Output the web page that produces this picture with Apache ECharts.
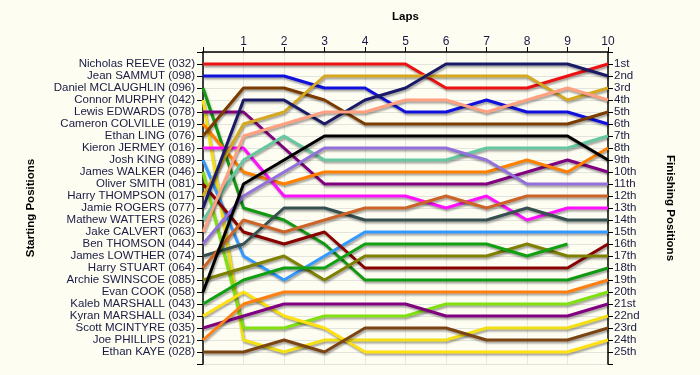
<!DOCTYPE html>
<html><head><meta charset="utf-8">
<script src="https://cdn.jsdelivr.net/npm/echarts@6/dist/echarts.min.js"></script>
<style>html,body{margin:0;padding:0;background:#fdfdf2;}#c{width:700px;height:375px;}</style>
</head><body><div id="c"></div>
<script>
// Laps (0 = starting grid)
const laps = [0,1,2,3,4,5,6,7,8,9,10];
const lapTickLabels = ['', '1','2','3','4','5','6','7','8','9','10'];
// Starting order (left axis labels)
const startNames = [
 'Nicholas REEVE (032)','Jean SAMMUT (098)','Daniel MCLAUGHLIN (096)','Connor MURPHY (042)',
 'Lewis EDWARDS (078)','Cameron COLVILLE (019)','Ethan LING (076)','Kieron JERMEY (016)',
 'Josh KING (089)','James WALKER (046)','Oliver SMITH (081)','Harry THOMPSON (017)',
 'Jamie ROGERS (077)','Mathew WATTERS (026)','Jake CALVERT (063)','Ben THOMSON (044)',
 'James LOWTHER (074)','Harry STUART (064)','Archie SWINSCOE (085)','Evan COOK (058)',
 'Kaleb MARSHALL (043)','Kyran MARSHALL (034)','Scott MCINTYRE (035)','Joe PHILLIPS (021)',
 'Ethan KAYE (028)'];
// Finishing position labels (right axis)
const finishLabels = ['1st','2nd','3rd','4th','5th','6th','7th','8th','9th','10th','11th','12th',
 '13th','14th','15th','16th','17th','18th','19th','20th','21st','22nd','23rd','24th','25th'];

// Position of each driver at laps 0..10
const reeve      = [1,1,1,1,1,1,3,3,3,2,1];
const sammut     = [2,2,2,3,3,5,5,4,5,5,6];
const mclaughlin = [3,13,14,16,19,19,19,19,19,19,18];
const murphy     = [4,24,25,24,24,24,24,23,23,23,22];
const edwards    = [5,5,8,11,11,11,11,11,10,9,10];
const colville   = [6,10,11,10,10,10,10,10,9,10,8];
const ling       = [7,3,3,4,6,6,6,6,6,6,5];
const jermey     = [8,8,12,12,12,12,13,12,14,13,13];
const king       = [9,17,19,17,15,15,15,15,15,15,15];
const walker     = [10,23,23,22,22,22,21,21,21,21,20];
const smith      = [11,15,16,15,18,18,18,18,18,18,16];
const thompson   = [12,6,5,2,2,2,2,2,2,4,3];
const rogers     = [13,4,4,6,4,3,1,1,1,1,2];
const watters    = [14,9,7,9,9,9,9,8,8,8,7];
const calvert    = [15,7,6,5,5,4,4,5,4,3,4];
const thomson    = [16,12,10,8,8,8,8,9,11,11,11];
const lowther    = [17,16,13,13,14,14,14,14,13,14,14];
const stuart     = [18,14,15,14,13,13,12,13,12,12,12];
const swinscoe   = [19,18,17,19,17,17,17,17,16,17,17];
const cook       = [20,11,9,7,7,7,7,7,7,7,9];
const kalebM     = [21,19,18,18,16,16,16,16,17,16];
const kyranM     = [22,20,22,23,25,25,25,25,25,25,24];
const mcintyre   = [23,22,21,21,21,21,22,22,22,22,21];
const phillips   = [24,21,20,20,20,20,20,20,20,20,19];
const kaye       = [25,25,24,25,23,23,23,24,24,24,23];

const driverLaps = [reeve,sammut,mclaughlin,murphy,edwards,colville,ling,jermey,king,walker,
 smith,thompson,rogers,watters,calvert,thomson,lowther,stuart,swinscoe,cook,kalebM,kyranM,
 mcintyre,phillips,kaye];

const palette = ['#ee1111','#1111dd','#119911','#f2e014','#800080','#ff8000','#7a3c00','#ff11ff',
 '#3399ff','#80e010','#880000','#d6a820','#1a1a66','#66c8a0','#ffa080','#9370db','#365050',
 '#cc6428','#808000','#000000','#11a011','#ffe010','#800080','#ff8010','#7b4513'];

const series = driverLaps.map((arr, i) => ({
  type: 'line',
  name: startNames[i],
  data: arr.map((p, k) => [laps[k], p]),
  symbol: 'none',
  animation: false,
  lineStyle: { color: palette[i], width: 3, shadowColor: 'rgba(0,0,0,0.35)', shadowBlur: 2, shadowOffsetX: 1, shadowOffsetY: 2 },
  itemStyle: { color: palette[i] },
  z: 3
}));

const labelFont = { fontFamily: 'Liberation Sans, Arial, sans-serif', fontSize: 11.5, color: '#1a1a44' };
const nameFont = { fontFamily: 'Liberation Sans, Arial, sans-serif', fontSize: 11.5, fontWeight: 'bold', color: '#000' };

const chart = echarts.init(document.getElementById('c'));
chart.setOption({
  backgroundColor: '#fdfdf2',
  animation: false,
  grid: { left: 203, right: 92, top: 52, bottom: 11 },
  xAxis: {
    type: 'value', position: 'top', min: 0, max: 10, interval: 1,
    name: 'Laps', nameLocation: 'middle', nameGap: 29, nameTextStyle: nameFont,
    axisLine: { show: true, lineStyle: { color: '#000', width: 1.5 } },
    axisTick: { show: true, length: 5, lineStyle: { color: '#000' } },
    axisLabel: { margin: 4, fontSize: 12, fontFamily: labelFont.fontFamily, color: '#1a1a44', formatter: v => lapTickLabels[v] || '' },
    splitLine: { show: true, lineStyle: { color: '#e8e8e2', width: 1 } }
  },
  yAxis: [{
    type: 'value', position: 'left', inverse: true, min: 0, max: 26, interval: 1,
    name: 'Starting Positions', nameLocation: 'middle', nameGap: 166, nameRotate: 90, nameTextStyle: nameFont,
    axisLine: { show: true, onZero: false, lineStyle: { color: '#000', width: 1.5 } },
    axisTick: { show: true, length: 6, lineStyle: { color: '#000' } },
    axisLabel: Object.assign({ margin: 8, formatter: v => (v >= 1 && v <= 25) ? startNames[v-1] : '' }, labelFont),
    splitLine: { show: true, lineStyle: { color: '#e4e4de', width: 1 } }
  }, {
    type: 'value', position: 'right', inverse: true, min: 0, max: 26, interval: 1,
    name: 'Finishing Positions', nameLocation: 'middle', nameGap: 56, nameRotate: -90, nameTextStyle: nameFont,
    axisLine: { show: true, onZero: false, lineStyle: { color: '#000', width: 1.5 } },
    axisTick: { show: true, length: 5, lineStyle: { color: '#000' } },
    axisLabel: Object.assign({ margin: 6, formatter: v => (v >= 1 && v <= 25) ? finishLabels[v-1] : '' }, labelFont),
    splitLine: { show: false }
  }],
  series: series
});
</script></body></html>
